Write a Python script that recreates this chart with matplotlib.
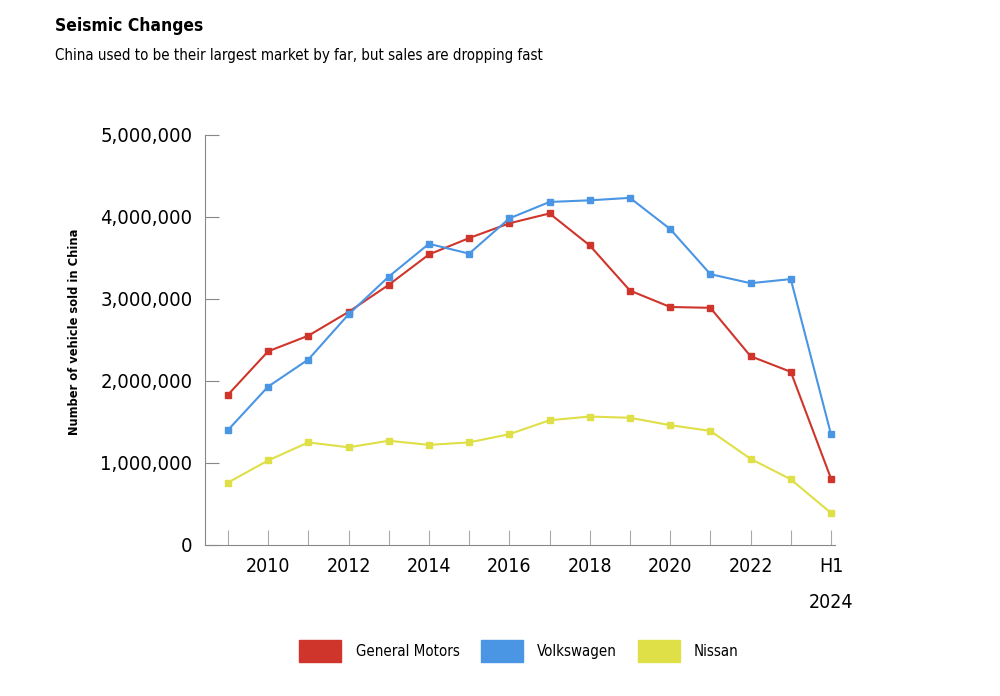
import matplotlib
matplotlib.use("Agg")
import matplotlib.pyplot as plt
from matplotlib.patches import Patch
from matplotlib import font_manager

# data
periods = ["2009", "2010", "2011", "2012", "2013", "2014", "2015", "2016",
           "2017", "2018", "2019", "2020", "2021", "2022", "2023", "H1\n2024"]
gm = [1.83, 2.36, 2.55, 2.84, 3.17, 3.54, 3.74, 3.92,
      4.04, 3.65, 3.10, 2.90, 2.89, 2.30, 2.11, 0.81]
vw = [1.40, 1.93, 2.26, 2.81, 3.27, 3.67, 3.55, 3.98,
      4.18, 4.20, 4.23, 3.85, 3.30, 3.19, 3.24, 1.35]
nissan = [0.76, 1.03, 1.25, 1.19, 1.27, 1.22, 1.25, 1.35,
          1.52, 1.565, 1.55, 1.46, 1.39, 1.05, 0.80, 0.39]
series_names = ["General Motors", "Volkswagen", "Nissan"]
y_ticks = [0, 1_000_000, 2_000_000, 3_000_000, 4_000_000, 5_000_000]

colors = ["#cf352b", "#4a95e4", "#dfdf48"]

installed = {f.name for f in font_manager.fontManager.ttflist}
if "Liberation Sans Narrow" in installed:
    plt.rcParams["font.family"] = ["Liberation Sans Narrow", "DejaVu Sans"]
else:
    plt.rcParams["font.family"] = ["DejaVu Sans"]
    plt.rcParams["font.stretch"] = "condensed"

fig = plt.figure(figsize=(10, 6.96), dpi=100)
ax = fig.add_axes([0.205, 0.217, 0.63, 0.5895])

x = list(range(len(periods)))
for vals, c in zip([gm, vw, nissan], colors):
    ax.plot(x, [v * 1_000_000 for v in vals], color=c, lw=1.5,
            marker="s", ms=4, mec=c, mfc=c)

ax.set_ylim(0, 5_000_000)
ax.set_xlim(-0.57, 15.1)
ax.set_yticks(y_ticks)
ax.set_yticklabels([f"{v:,}" for v in y_ticks], fontsize=14.5)
ax.set_xticks(x)
ax.set_xticklabels([p if (i % 2 == 1 or i == len(periods) - 1) else ""
                    for i, p in enumerate(periods)], fontsize=14,
                   linespacing=2.1, va="top")
ax.tick_params(axis="y", direction="in", length=10, color="#888888", pad=9)
ax.tick_params(axis="x", direction="in", length=11, color="#aaaaaa", pad=9)

for s in ["top", "right"]:
    ax.spines[s].set_visible(False)
ax.spines["left"].set_color("#888888")
ax.spines["bottom"].set_color("#888888")

fig.text(0.075, 0.523, "Number of vehicle sold in China", fontsize=9.2,
         fontweight="bold", rotation=90, ha="center", va="center")

fig.text(0.055, 0.963, "Seismic Changes", fontsize=12.5, fontweight="bold",
         va="center")
fig.text(0.055, 0.92, "China used to be their largest market by far, but sales are dropping fast",
         fontsize=10.8, va="center")

handles = [Patch(facecolor=c, edgecolor=c, label=n)
           for c, n in zip(colors, series_names)]
fig.legend(handles=handles, loc="center", bbox_to_anchor=(0.519, 0.065),
           ncol=3, frameon=False, fontsize=10.8, handlelength=2.8,
           handleheight=1.9, columnspacing=1.4, handletextpad=0.95)

fig.savefig("out.png", dpi=100)
